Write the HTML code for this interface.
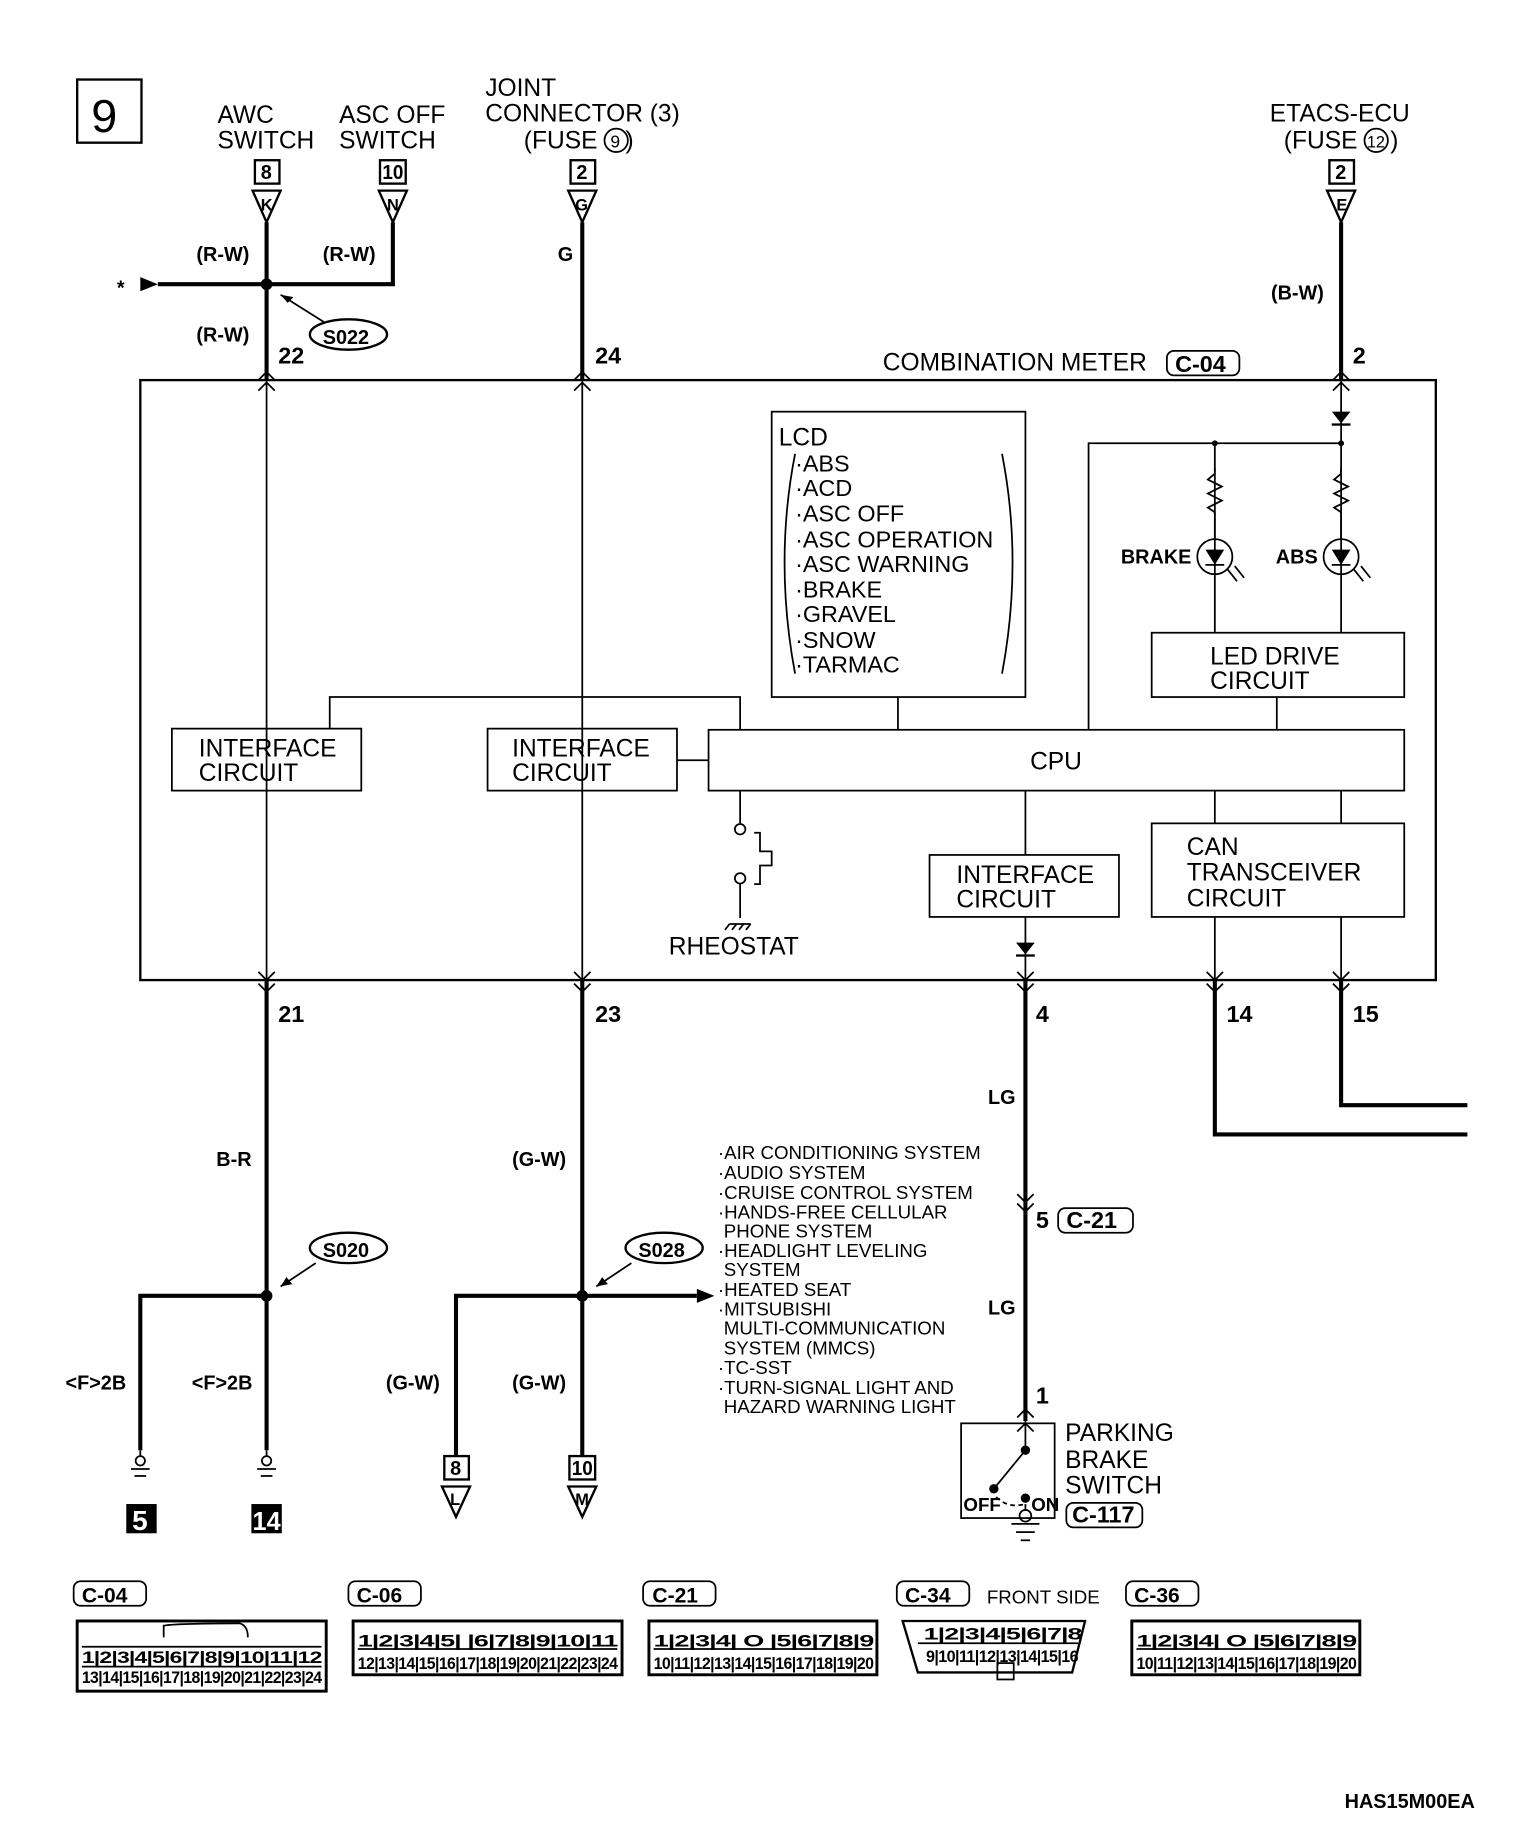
<!DOCTYPE html>
<html><head><meta charset="utf-8"><style>
html,body{margin:0;padding:0;background:#fff;}
svg{display:block}
text{font-family:"Liberation Sans",sans-serif;fill:#000}
.n{font-family:"Liberation Sans Narrow","Liberation Sans",sans-serif;font-weight:bold}
</style></head><body>
<svg width="1520" height="1828" viewBox="0 0 1300 1563" preserveAspectRatio="none" xmlns="http://www.w3.org/2000/svg">
<defs>
<g id="up"><polyline points="-7,7 0,0 7,7" fill="none" stroke="#000" stroke-width="1.5"/></g>
<g id="dn"><polyline points="-7,-7 0,0 7,-7" fill="none" stroke="#000" stroke-width="1.5"/></g>
</defs>
<g stroke="#000" fill="none">
<rect x="66" y="68" width="55" height="54" stroke-width="2"/>
<rect x="218" y="137" width="21" height="20" stroke-width="2"/>
<rect x="325" y="137" width="22" height="20" stroke-width="2"/>
<rect x="488" y="137" width="21" height="20" stroke-width="2"/>
<rect x="1137" y="137" width="21" height="20" stroke-width="2"/>
<polygon points="216,163 240,163 228,190" stroke-width="2"/>
<polygon points="324,163 348,163 336,190" stroke-width="2"/>
<polygon points="486,163 510,163 498,190" stroke-width="2"/>
<polygon points="1135,163 1159,163 1147,190" stroke-width="2"/>
<g stroke-width="3.5">
<line x1="228" y1="190" x2="228" y2="325"/>
<polyline points="135,243 336,243 336,190"/>
<line x1="498" y1="190" x2="498" y2="325"/>
<line x1="1147" y1="190" x2="1147" y2="325"/>
<line x1="228" y1="838" x2="228" y2="1240"/>
<polyline points="120,1240 120,1108 228,1108"/>
<line x1="498" y1="838" x2="498" y2="1245"/>
<polyline points="390,1245 390,1108 596,1108"/>
<line x1="877" y1="838" x2="877" y2="1215"/>
<polyline points="1039,838 1039,970 1255,970"/>
<polyline points="1147,838 1147,945 1255,945"/>
</g>
<rect x="120" y="325" width="1108" height="513" stroke-width="2"/>
<g stroke-width="1.5">
<line x1="228" y1="325" x2="228" y2="838"/>
<line x1="498" y1="325" x2="498" y2="838"/>
<line x1="1147" y1="325" x2="1147" y2="541"/>
<polyline points="931,624 931,379 1147,379"/>
<line x1="1039" y1="379" x2="1039" y2="541"/>
<rect x="660" y="352" width="217" height="244"/>
<rect x="606" y="624" width="595" height="52"/>
<rect x="147" y="623" width="162" height="53"/>
<rect x="417" y="623" width="162" height="53"/>
<rect x="795" y="731" width="162" height="53"/>
<rect x="985" y="541" width="216" height="55"/>
<rect x="985" y="704" width="216" height="80"/>
<polyline points="282,623 282,596 633,596 633,624"/>
<line x1="579" y1="650" x2="606" y2="650"/>
<line x1="768" y1="596" x2="768" y2="624"/>
<line x1="1092" y1="596" x2="1092" y2="624"/>
<line x1="1039" y1="676" x2="1039" y2="704"/>
<line x1="1147" y1="676" x2="1147" y2="704"/>
<line x1="1039" y1="784" x2="1039" y2="838"/>
<line x1="1147" y1="784" x2="1147" y2="838"/>
<line x1="877" y1="676" x2="877" y2="731"/>
<line x1="877" y1="784" x2="877" y2="838"/>
<line x1="633" y1="676" x2="633" y2="704"/>
<circle cx="633" cy="709" r="4.5"/>
<circle cx="633" cy="751" r="4.5"/>
<line x1="633" y1="755" x2="633" y2="785"/>
<polyline points="645,712 650,712 650,728 660,728 660,740 650,740 650,756 645,756"/>
<line x1="624" y1="790" x2="642" y2="790"/>
<line x1="624" y1="790" x2="620" y2="795"/><line x1="630" y1="790" x2="626" y2="795"/><line x1="636" y1="790" x2="632" y2="795"/><line x1="642" y1="790" x2="638" y2="795"/>
<polyline points="1039,400 1039,405 1033,410 1045,416 1033,422 1045,428 1033,434 1039,438 1039,461"/>
<polyline points="1147,400 1147,405 1141,410 1153,416 1141,422 1153,428 1141,434 1147,438 1147,461"/>
<circle cx="1039" cy="476" r="15"/>
<circle cx="1147" cy="476" r="15"/>
<line x1="1031" y1="483" x2="1047" y2="483"/>
<line x1="1139" y1="483" x2="1155" y2="483"/>
<line x1="1050" y1="487" x2="1058" y2="497"/><line x1="1056" y1="484" x2="1064" y2="494"/>
<line x1="1158" y1="487" x2="1166" y2="497"/><line x1="1164" y1="484" x2="1172" y2="494"/>
<path d="M680,388 Q662,480 680,576"/>
<path d="M857,388 Q875,480 857,576"/>
<ellipse cx="298" cy="286" rx="33" ry="13" stroke-width="2"/>
<ellipse cx="298" cy="1067" rx="33" ry="13" stroke-width="2"/>
<ellipse cx="568" cy="1067" rx="33" ry="13" stroke-width="2"/>
<line x1="278" y1="276" x2="240" y2="252"/>
<line x1="270" y1="1080" x2="240" y2="1100"/>
<line x1="540" y1="1080" x2="510" y2="1100"/>
<line x1="120" y1="1240" x2="120" y2="1245"/><circle cx="120" cy="1249" r="4"/>
<line x1="112" y1="1256" x2="128" y2="1256"/><line x1="115" y1="1262" x2="125" y2="1262"/>
<line x1="228" y1="1240" x2="228" y2="1245"/><circle cx="228" cy="1249" r="4"/>
<line x1="220" y1="1256" x2="236" y2="1256"/><line x1="223" y1="1262" x2="233" y2="1262"/>
<rect x="380" y="1245" width="21" height="20" stroke-width="2"/>
<rect x="487" y="1245" width="22" height="20" stroke-width="2"/>
<polygon points="378,1271 402,1271 390,1297" stroke-width="2"/>
<polygon points="486,1271 510,1271 498,1297" stroke-width="2"/>
<rect x="822" y="1217" width="80" height="81"/>
<line x1="877" y1="1210" x2="877" y2="1240"/>
<line x1="877" y1="1240" x2="850" y2="1273"/>
<path d="M852,1280 Q862,1290 877,1286" stroke-dasharray="4,3"/>
<line x1="877" y1="1286" x2="877" y2="1292"/>
<circle cx="877" cy="1296" r="5"/>
<line x1="865" y1="1303" x2="889" y2="1303"/><line x1="869" y1="1310" x2="885" y2="1310"/><line x1="873" y1="1317" x2="881" y2="1317"/>
</g>
</g>
<g fill="#000">
<polygon points="120,237 135,243 120,249"/>
<circle cx="228" cy="243" r="5"/>
<circle cx="228" cy="1108" r="5"/>
<circle cx="498" cy="1108" r="5"/>
<circle cx="1039" cy="379" r="2.5"/>
<circle cx="1147" cy="379" r="2.5"/>
<polygon points="1139,352 1155,352 1147,362"/><rect x="1139" y="362" width="16" height="2"/>
<polygon points="869,806 885,806 877,816"/><rect x="869" y="816" width="16" height="2"/>
<polygon points="1031,470 1047,470 1039,483"/>
<polygon points="1139,470 1155,470 1147,483"/>
<polygon points="596,1102 596,1114 611,1108"/>
<polygon points="240,252 251,254 246,259"/>
<polygon points="240,1100 245,1092 250,1098"/>
<polygon points="510,1100 515,1092 520,1098"/>
<circle cx="877" cy="1240" r="4"/>
<circle cx="850" cy="1273" r="4"/>
<circle cx="877" cy="1281" r="4"/>
<rect x="108" y="1286" width="26" height="25"/>
<rect x="215" y="1286" width="26" height="25"/>
</g>
<use href="#up" x="228" y="318"/><use href="#up" x="228" y="327"/>
<use href="#up" x="498" y="318"/><use href="#up" x="498" y="327"/>
<use href="#up" x="1147" y="318"/><use href="#up" x="1147" y="327"/>
<use href="#dn" x="228" y="838"/><use href="#dn" x="228" y="848"/>
<use href="#dn" x="498" y="838"/><use href="#dn" x="498" y="848"/>
<use href="#dn" x="877" y="838"/><use href="#dn" x="877" y="848"/>
<use href="#dn" x="1039" y="838"/><use href="#dn" x="1039" y="848"/>
<use href="#dn" x="1147" y="838"/><use href="#dn" x="1147" y="848"/>
<use href="#dn" x="877" y="1028"/><use href="#dn" x="877" y="1036"/>
<use href="#up" x="877" y="1205"/><use href="#up" x="877" y="1217"/>
<text x="78" y="113" font-size="40">9</text>
<g font-size="21">
<text x="186" y="105">AWC</text><text x="186" y="127">SWITCH</text>
<text x="290" y="105">ASC OFF</text><text x="290" y="127">SWITCH</text>
<text x="415" y="82">JOINT</text><text x="415" y="104">CONNECTOR (3)</text><text x="448" y="127">(FUSE</text><text x="535" y="127">)</text>
<text x="1086" y="104">ETACS-ECU</text><text x="1098" y="127">(FUSE</text><text x="1189" y="127">)</text>
<text x="755" y="317">COMBINATION METER</text>
<text x="666" y="381">LCD</text>
<text x="881" y="658">CPU</text>
<text x="170" y="647">INTERFACE</text><text x="170" y="668">CIRCUIT</text>
<text x="438" y="647">INTERFACE</text><text x="438" y="668">CIRCUIT</text>
<text x="818" y="755">INTERFACE</text><text x="818" y="776">CIRCUIT</text>
<text x="1035" y="568">LED DRIVE</text><text x="1035" y="589">CIRCUIT</text>
<text x="1015" y="731">CAN</text><text x="1015" y="753">TRANSCEIVER</text><text x="1015" y="775">CIRCUIT</text>
<text x="572" y="816">RHEOSTAT</text>
<text x="911" y="1232">PARKING</text><text x="911" y="1255">BRAKE</text><text x="911" y="1277">SWITCH</text>
</g>
<g font-size="20">
<text x="680" y="403">·ABS</text><text x="680" y="424">·ACD</text><text x="680" y="446">·ASC OFF</text>
<text x="680" y="468">·ASC OPERATION</text><text x="680" y="489">·ASC WARNING</text><text x="680" y="511">·BRAKE</text>
<text x="680" y="532">·GRAVEL</text><text x="680" y="554">·SNOW</text><text x="680" y="575">·TARMAC</text>
</g>
<g stroke="#000" fill="none" stroke-width="1.5">
<circle cx="527" cy="120" r="10"/><circle cx="1177" cy="120" r="10"/>
</g>
<text x="522" y="126" font-size="15">9</text><text x="1169" y="126" font-size="14">12</text>
<g class="n" font-size="17">
<text x="223" y="153">8</text><text x="327" y="153" textLength="18" lengthAdjust="spacingAndGlyphs">10</text><text x="493" y="153">2</text><text x="1142" y="153">2</text>
<text x="223" y="180" font-size="14">K</text><text x="331" y="180" font-size="14">N</text><text x="492" y="180" font-size="14">G</text><text x="1143" y="180" font-size="14">E</text>
<text x="168" y="223">(R-W)</text><text x="276" y="223">(R-W)</text><text x="168" y="292">(R-W)</text>
<text x="477" y="223">G</text><text x="1087" y="256">(B-W)</text>
<text x="276" y="294">S022</text><text x="276" y="1075">S020</text><text x="546" y="1075">S028</text>
<text x="100" y="252">*</text>
<text x="238" y="311" font-size="20">22</text><text x="509" y="311" font-size="20">24</text><text x="1157" y="311" font-size="20">2</text>
<text x="238" y="874" font-size="20">21</text><text x="509" y="874" font-size="20">23</text><text x="886" y="874" font-size="20">4</text>
<text x="1049" y="874" font-size="20">14</text><text x="1157" y="874" font-size="20">15</text>
<text x="1019" y="482" text-anchor="end">BRAKE</text><text x="1127" y="482" text-anchor="end">ABS</text>
<text x="185" y="997">B-R</text><text x="438" y="997">(G-W)</text>
<text x="845" y="944">LG</text><text x="845" y="1124">LG</text>
<text x="886" y="1050" font-size="20">5</text><text x="886" y="1200" font-size="20">1</text>
<text x="56" y="1188">&lt;F&gt;2B</text><text x="164" y="1188">&lt;F&gt;2B</text>
<text x="330" y="1188">(G-W)</text><text x="438" y="1188">(G-W)</text>
<text x="385" y="1261">8</text><text x="489" y="1261" textLength="18" lengthAdjust="spacingAndGlyphs">10</text>
<text x="385" y="1287" font-size="14">L</text><text x="492" y="1287" font-size="14">M</text>
<text x="824" y="1292" font-size="16">OFF</text><text x="882" y="1292" font-size="16">ON</text>
<text x="113" y="1308" font-size="24" style="fill:#fff">5</text>
<text x="216" y="1308" font-size="22" style="fill:#fff" textLength="24" lengthAdjust="spacingAndGlyphs">14</text>
<text x="1005" y="318" font-size="20">C-04</text>
<text x="912" y="1050" font-size="20">C-21</text>
<text x="917" y="1302" font-size="20">C-117</text>
<text x="1150" y="1546" font-size="17">HAS15M00EA</text>
</g>
<g fill="none" stroke="#000" stroke-width="1.5">
<rect x="998" y="300" width="62" height="21" rx="6"/>
<rect x="905" y="1033" width="64" height="21" rx="6"/>
<rect x="912" y="1285" width="65" height="21" rx="6"/>
</g>
<g font-size="16">
<text x="614" y="991">·AIR CONDITIONING SYSTEM</text>
<text x="614" y="1008">·AUDIO SYSTEM</text>
<text x="614" y="1025">·CRUISE CONTROL SYSTEM</text>
<text x="614" y="1042">·HANDS-FREE CELLULAR</text>
<text x="619" y="1058">PHONE SYSTEM</text>
<text x="614" y="1075">·HEADLIGHT LEVELING</text>
<text x="619" y="1091">SYSTEM</text>
<text x="614" y="1108">·HEATED SEAT</text>
<text x="614" y="1125">·MITSUBISHI</text>
<text x="619" y="1141">MULTI-COMMUNICATION</text>
<text x="619" y="1158">SYSTEM (MMCS)</text>
<text x="614" y="1175">·TC-SST</text>
<text x="614" y="1192">·TURN-SIGNAL LIGHT AND</text>
<text x="619" y="1208">HAZARD WARNING LIGHT</text>
</g>
<g fill="none" stroke="#000" stroke-width="1.5">
<rect x="63" y="1352" width="62" height="21" rx="6"/>
<rect x="298" y="1352" width="62" height="21" rx="6"/>
<rect x="550" y="1352" width="62" height="21" rx="6"/>
<rect x="767" y="1352" width="62" height="21" rx="6"/>
<rect x="963" y="1352" width="62" height="21" rx="6"/>
<rect x="66" y="1386" width="213" height="60" stroke-width="2.5"/>
<rect x="302" y="1386" width="230" height="46" stroke-width="2.5"/>
<rect x="555" y="1386" width="195" height="46" stroke-width="2.5"/>
<polygon points="772,1386 928,1386 917,1430 785,1430" stroke-width="2"/>
<rect x="968" y="1386" width="195" height="46" stroke-width="2.5"/>
<rect x="853" y="1422" width="14" height="14"/>
<line x1="70" y1="1408" x2="275" y2="1408"/><line x1="70" y1="1425" x2="275" y2="1425"/>
<line x1="306" y1="1410" x2="528" y2="1410"/>
<line x1="559" y1="1410" x2="746" y2="1410"/>
<line x1="785" y1="1405" x2="922" y2="1405"/>
<line x1="972" y1="1410" x2="1159" y2="1410"/>
<path d="M140,1400 V1390 Q150,1388 205,1388 Q212,1390 212,1400"/>
</g>
<g class="n" font-size="18">
<text x="70" y="1370">C-04</text><text x="305" y="1370">C-06</text><text x="558" y="1370">C-21</text>
<text x="774" y="1370">C-34</text><text x="970" y="1370">C-36</text>
</g>
<text x="844" y="1371" font-size="16">FRONT SIDE</text>
<g class="n" font-size="14" letter-spacing="-0.5">
<text x="70" y="1422" textLength="205" lengthAdjust="spacingAndGlyphs">1|2|3|4|5|6|7|8|9|10|11|12</text>
<text x="70" y="1439" textLength="205" lengthAdjust="spacingAndGlyphs">13|14|15|16|17|18|19|20|21|22|23|24</text>
<text x="306" y="1408" textLength="222" lengthAdjust="spacingAndGlyphs">1|2|3|4|5|  |6|7|8|9|10|11</text>
<text x="306" y="1427" textLength="222" lengthAdjust="spacingAndGlyphs">12|13|14|15|16|17|18|19|20|21|22|23|24</text>
<text x="559" y="1408" textLength="188" lengthAdjust="spacingAndGlyphs">1|2|3|4| O |5|6|7|8|9</text>
<text x="559" y="1427" textLength="188" lengthAdjust="spacingAndGlyphs">10|11|12|13|14|15|16|17|18|19|20</text>
<text x="790" y="1402" textLength="135" lengthAdjust="spacingAndGlyphs">1|2|3|4|5|6|7|8</text>
<text x="792" y="1421" textLength="130" lengthAdjust="spacingAndGlyphs">9|10|11|12|13|14|15|16</text>
<text x="972" y="1408" textLength="188" lengthAdjust="spacingAndGlyphs">1|2|3|4| O |5|6|7|8|9</text>
<text x="972" y="1427" textLength="188" lengthAdjust="spacingAndGlyphs">10|11|12|13|14|15|16|17|18|19|20</text>
</g>
</svg>
</body></html>
